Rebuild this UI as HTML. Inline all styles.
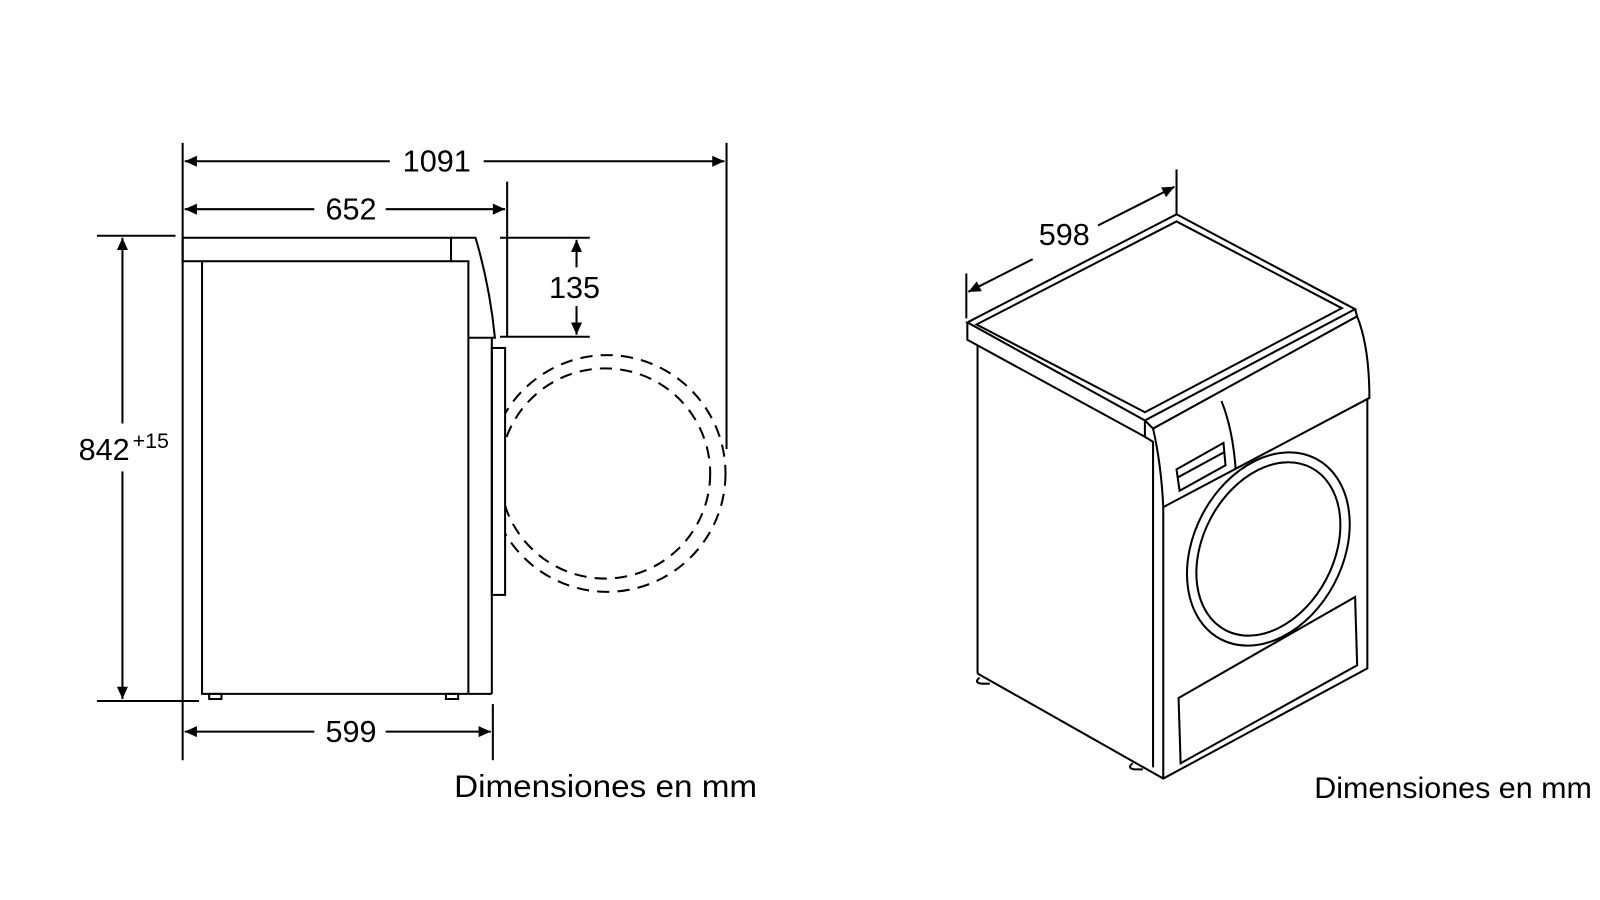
<!DOCTYPE html>
<html><head><meta charset="utf-8"><style>
html,body{margin:0;padding:0;background:#fff;width:1600px;height:900px;overflow:hidden}
svg{display:block}
text{font-family:"Liberation Sans",Arial,sans-serif;fill:#000}
</style></head><body>
<svg width="1600" height="900" viewBox="0 0 1568 882" preserveAspectRatio="none" xmlns="http://www.w3.org/2000/svg">
<defs>
<marker id="b" viewBox="0 0 10 10" refX="10" refY="5" markerWidth="22" markerHeight="12" markerUnits="userSpaceOnUse" orient="auto-start-reverse"><path d="M0,0.5 L10,5 L0,9.5 z" fill="#000"/></marker>
<clipPath id="c"><rect x="495" y="300" width="300" height="320"/></clipPath>
</defs>
<g fill="none" stroke="#000" stroke-width="2">
<line x1="179" y1="140" x2="179" y2="745"/>
<line x1="497" y1="178" x2="497" y2="330"/>
<line x1="712" y1="140" x2="712" y2="440"/>
<line x1="483" y1="690" x2="483" y2="745"/>
<line x1="181" y1="158" x2="382" y2="158" marker-start="url(#b)"/>
<line x1="474" y1="158" x2="710" y2="158" marker-end="url(#b)"/>
<line x1="181" y1="205" x2="308" y2="205" marker-start="url(#b)"/>
<line x1="378" y1="205" x2="495" y2="205" marker-end="url(#b)"/>
<line x1="181" y1="717" x2="308" y2="717" marker-start="url(#b)"/>
<line x1="378" y1="717" x2="481" y2="717" marker-end="url(#b)"/>
<line x1="95" y1="231" x2="172" y2="231"/>
<line x1="95" y1="687" x2="195" y2="687"/>
<line x1="120" y1="233" x2="120" y2="415" marker-start="url(#b)"/>
<line x1="120" y1="462" x2="120" y2="685" marker-end="url(#b)"/>
<line x1="490" y1="233" x2="578" y2="233"/>
<line x1="490" y1="330" x2="578" y2="330"/>
<line x1="565" y1="235" x2="565" y2="262" marker-start="url(#b)"/>
<line x1="565" y1="300" x2="565" y2="328" marker-end="url(#b)"/>
<rect x="179" y="233" width="263" height="23"/>
<polyline points="198,256 198,680 482,680"/>
<polyline points="442,256 459,256 459,680"/>
<line x1="482" y1="331" x2="482" y2="680"/>
<path d="M442,233 L466,233 Q480,280 485,331 L459,331"/>
<rect x="482" y="341" width="13" height="242"/>
<path d="M205,680 h12 v5 h-12 z M437,680 h12 v5 h-12 z"/>
<g clip-path="url(#c)" stroke-dasharray="12,8">
<circle cx="595" cy="464" r="116"/>
<circle cx="593" cy="464" r="103"/>
</g>
<line x1="947" y1="268" x2="947" y2="312"/>
<line x1="1153" y1="166" x2="1153" y2="210"/>
<line x1="949" y1="286" x2="1012" y2="254" marker-start="url(#b)"/>
<line x1="1076" y1="221" x2="1151" y2="183" marker-end="url(#b)"/>
<polygon points="948,316 1153,210 1328,303 1122,412"/>
<polygon points="957,318 1153,217 1315,302 1122,404"/>
<polyline points="948,316 948,333 1122,428 1122,412"/>
<path d="M1122,428 L1130,433 L1130,752"/>
<line x1="958" y1="339" x2="958" y2="660"/>
<polyline points="958,660 1140,763 1340,655 1340,390"/>
<path d="M1122,412 L1130,420 L1330,310 L1328,303"/>
<path d="M1130,420 Q1138,455 1140,497 L1342,390 Q1342,340 1330,310"/>
<line x1="1140" y1="497" x2="1140" y2="763"/>
<path d="M1197,393 Q1208,420 1211,460"/>
<polygon points="1153,460 1199,434 1201,456 1156,481"/>
<line x1="1154" y1="468" x2="1200" y2="443"/>
<ellipse cx="1243" cy="538" rx="73" ry="100" transform="rotate(28 1243 538)"/>
<ellipse cx="1243" cy="538" rx="64" ry="90" transform="rotate(28 1243 538)"/>
<polygon points="1155,684 1328,585 1330,652 1157,748"/>
<path d="M960,664 q-6,5 2,6 h8 M1110,748 q-6,5 2,6 h8"/>
</g>
<g font-size="30">
<text x="428" y="168" text-anchor="middle">1091</text>
<text x="344" y="215" text-anchor="middle">652</text>
<text x="344" y="727" text-anchor="middle">599</text>
<text x="563" y="292" text-anchor="middle">135</text>
<text x="77" y="451">842</text>
<text x="1043" y="240" text-anchor="middle">598</text>
</g>
<text x="130" y="439" font-size="21">+15</text>
<text x="445" y="781" font-size="31" textLength="297" lengthAdjust="spacingAndGlyphs">Dimensiones en mm</text>
<text x="1288" y="782" font-size="29" textLength="272" lengthAdjust="spacingAndGlyphs">Dimensiones en mm</text>
</svg>
</body></html>
